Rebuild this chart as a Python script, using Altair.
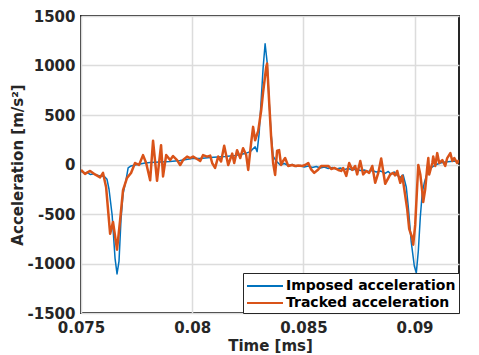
import altair as alt
import pandas as pd

# Time [ms] and acceleration [m/s^2]
imposed_t = [0.07500, 0.07514, 0.07527, 0.07541, 0.07554, 0.07568, 0.07586, 0.07604, 0.07617, 0.07626,
             0.07640, 0.07653, 0.07662, 0.07671, 0.07680, 0.07689, 0.07703, 0.07712, 0.07725, 0.07743,
             0.07766, 0.07788, 0.07811, 0.07856, 0.07901, 0.07946, 0.08000, 0.08036, 0.08081, 0.08148,
             0.08193, 0.08238, 0.08261, 0.08283, 0.08292, 0.08301, 0.08310, 0.08319, 0.08328, 0.08337,
             0.08346, 0.08355, 0.08364, 0.08378, 0.08396, 0.08414, 0.08432, 0.08450, 0.08468, 0.08486,
             0.08504, 0.08522, 0.08540, 0.08558, 0.08576, 0.08594, 0.08612, 0.08630, 0.08648, 0.08666,
             0.08684, 0.08702, 0.08720, 0.08738, 0.08756, 0.08774, 0.08792, 0.08810, 0.08828, 0.08846,
             0.08868, 0.08882, 0.08895, 0.08909, 0.08922, 0.08936, 0.08949, 0.08963, 0.08972, 0.08985,
             0.08999, 0.09008, 0.09017, 0.09026, 0.09035, 0.09044, 0.09057, 0.09071, 0.09093, 0.09116,
             0.09138, 0.09161, 0.09183, 0.09200]
imposed_a = [-70, -85, -80, -100, -95, -105, -115, -120, -150, -250,
             -510, -945, -1105, -975, -550, -300, -150, -35, -15, -5,
             5, 15, 20, 25, 30, 40, 60, 60, 70, 80,
             90, 110, 130, 180, 130, 310, 640, 975, 1220, 1035,
             640, 310, 85, 35, -5, 10, -10, 0, -20, -10,
             -25, -15, -30, -20, -35, -25, -40, -30, -45, -35,
             -50, -40, -55, -45, -60, -55, -70, -60, -75, -65,
             -90, -70, -100, -75, -110, -130, -105, -230, -430, -780,
             -1025, -1095, -875, -530, -280, -185, -85, -40, -5, 15,
             25, 30, 35, 30]

tracked_t = [0.07500, 0.07518, 0.07541, 0.07563, 0.07586, 0.07599, 0.07613, 0.07631, 0.07644, 0.07662,
             0.07676, 0.07689, 0.07707, 0.07725, 0.07743, 0.07761, 0.07779, 0.07793, 0.07811, 0.07824,
             0.07842, 0.07860, 0.07869, 0.07883, 0.07901, 0.07914, 0.07932, 0.07946, 0.07959, 0.07977,
             0.07991, 0.08004, 0.08022, 0.08036, 0.08049, 0.08067, 0.08081, 0.08090, 0.08103, 0.08117,
             0.08130, 0.08144, 0.08162, 0.08180, 0.08189, 0.08202, 0.08216, 0.08229, 0.08243, 0.08252,
             0.08265, 0.08274, 0.08283, 0.08297, 0.08310, 0.08319, 0.08333, 0.08337, 0.08346, 0.08355,
             0.08364, 0.08373, 0.08382, 0.08391, 0.08400, 0.08409, 0.08418, 0.08432, 0.08450, 0.08463,
             0.08477, 0.08495, 0.08508, 0.08522, 0.08535, 0.08549, 0.08567, 0.08580, 0.08598, 0.08612,
             0.08625, 0.08639, 0.08657, 0.08670, 0.08679, 0.08693, 0.08706, 0.08720, 0.08733, 0.08742,
             0.08756, 0.08769, 0.08783, 0.08796, 0.08810, 0.08823, 0.08837, 0.08850, 0.08868, 0.08891,
             0.08904, 0.08913, 0.08922, 0.08936, 0.08945, 0.08954, 0.08967, 0.08976, 0.08990, 0.08994,
             0.09003, 0.09012, 0.09017, 0.09026, 0.09035, 0.09039, 0.09048, 0.09057, 0.09062, 0.09066,
             0.09080, 0.09084, 0.09093, 0.09102, 0.09111, 0.09125, 0.09138, 0.09147, 0.09161, 0.09170,
             0.09179, 0.09192, 0.09200]
tracked_a = [-55, -95, -65, -100, -130, -85, -230, -700, -580, -860,
             -560, -260, -135, -85, 15, -5, 95, 15, -160, 240,
             -165, 195, -120, 95, 45, 85, 45, -5, 45, 80,
             65, 80, 55, 35, 95, 80, 90, 15, -35, 80,
             30, 190, -5, 110, 15, 145, 65, 165, 95, -55,
             215, 380, 245, 340, 540, 730, 985, 1020, 640, 280,
             15, -105, 140, 145, -5, 35, 65, -15, -5, -15,
             -10, -15, -5, 15, -50, -85, -50, -15, -15, -15,
             -45, -35, -55, -65, -35, -115, 15, -55, -15, -100,
             35, -100, -65, -85, -15, -185, -85, 60, -195, -100,
             -85, -110, -65, -185, -115, -250, -450, -650, -745, -810,
             -610, -215, -5, -100, -280, -380, -250, -35, 65, -100,
             15, 80, -15, 115, 15, 45, -15, 65, 115, 35,
             65, 15, 45]

series_names = ["Imposed acceleration", "Tracked acceleration"]
series_colors = ["#0072BD", "#D95319"]
x_ticks = [0.075, 0.08, 0.085, 0.09]
y_ticks = [-1500, -1000, -500, 0, 500, 1000, 1500]

df = pd.concat([
    pd.DataFrame({"t": imposed_t, "a": imposed_a, "series": series_names[0]}),
    pd.DataFrame({"t": tracked_t, "a": tracked_a, "series": series_names[1]}),
], ignore_index=True)

FONT = "DejaVu Sans"
TXT = "#262626"

x_enc = alt.X("t:Q", scale=alt.Scale(domain=[0.075, 0.092], nice=False, zero=False),
              axis=alt.Axis(title="Time [ms]", values=x_ticks,
                            labelExpr="toString(datum.value)", labelFlush=False,
                            labelFontWeight="bold", labelFontSize=15,
                            titleFontSize=15, labelPadding=7, titlePadding=3))
y_enc = alt.Y("a:Q", scale=alt.Scale(domain=[-1500, 1500], nice=False),
              axis=alt.Axis(title="Acceleration [m/s²]", values=y_ticks,
                            labelExpr="toString(datum.value)", labelFlush=False,
                            labelFontWeight="bold", labelFontSize=15,
                            titleFontSize=15, labelPadding=6, titlePadding=2))
color_enc = alt.Color("series:N",
                      scale=alt.Scale(domain=series_names, range=series_colors),
                      legend=alt.Legend(title=None, orient="bottom-right", offset=0,
                                        strokeColor=TXT, fillColor="white",
                                        padding=3, symbolType="M-1,0L3,0", symbolSize=324,
                                        symbolStrokeWidth=2, labelFont=FONT,
                                        labelFontWeight="bold", labelFontSize=14,
                                        labelLimit=400,
                                        labelColor="black", rowPadding=0, labelOffset=20))

base = alt.Chart(df)
blue = base.transform_filter(alt.datum.series == series_names[0]).mark_line(
    strokeWidth=1.5, strokeJoin="round", clip=True).encode(x=x_enc, y=y_enc, color=color_enc)
orange = base.transform_filter(alt.datum.series == series_names[1]).mark_line(
    strokeWidth=2.5, strokeJoin="round", clip=True).encode(x=x_enc, y=y_enc, color=color_enc)

chart = alt.layer(blue, orange).properties(
    width=378, height=297,
    autosize=alt.AutoSizeParams(type="none"),
    padding={"left": 73, "top": 8, "right": 12, "bottom": 40},
    background="white",
).configure_view(
    stroke=TXT, strokeWidth=2
).configure_axis(
    labelFont=FONT, labelFontWeight="bold", labelColor=TXT,
    titleFont=FONT, titleFontWeight="bold", titleColor=TXT,
    gridColor="#dcdcdc", gridWidth=1.5, domain=False, ticks=False,
)

chart.save("out.html", embed_options={"renderer": "svg", "actions": False})
